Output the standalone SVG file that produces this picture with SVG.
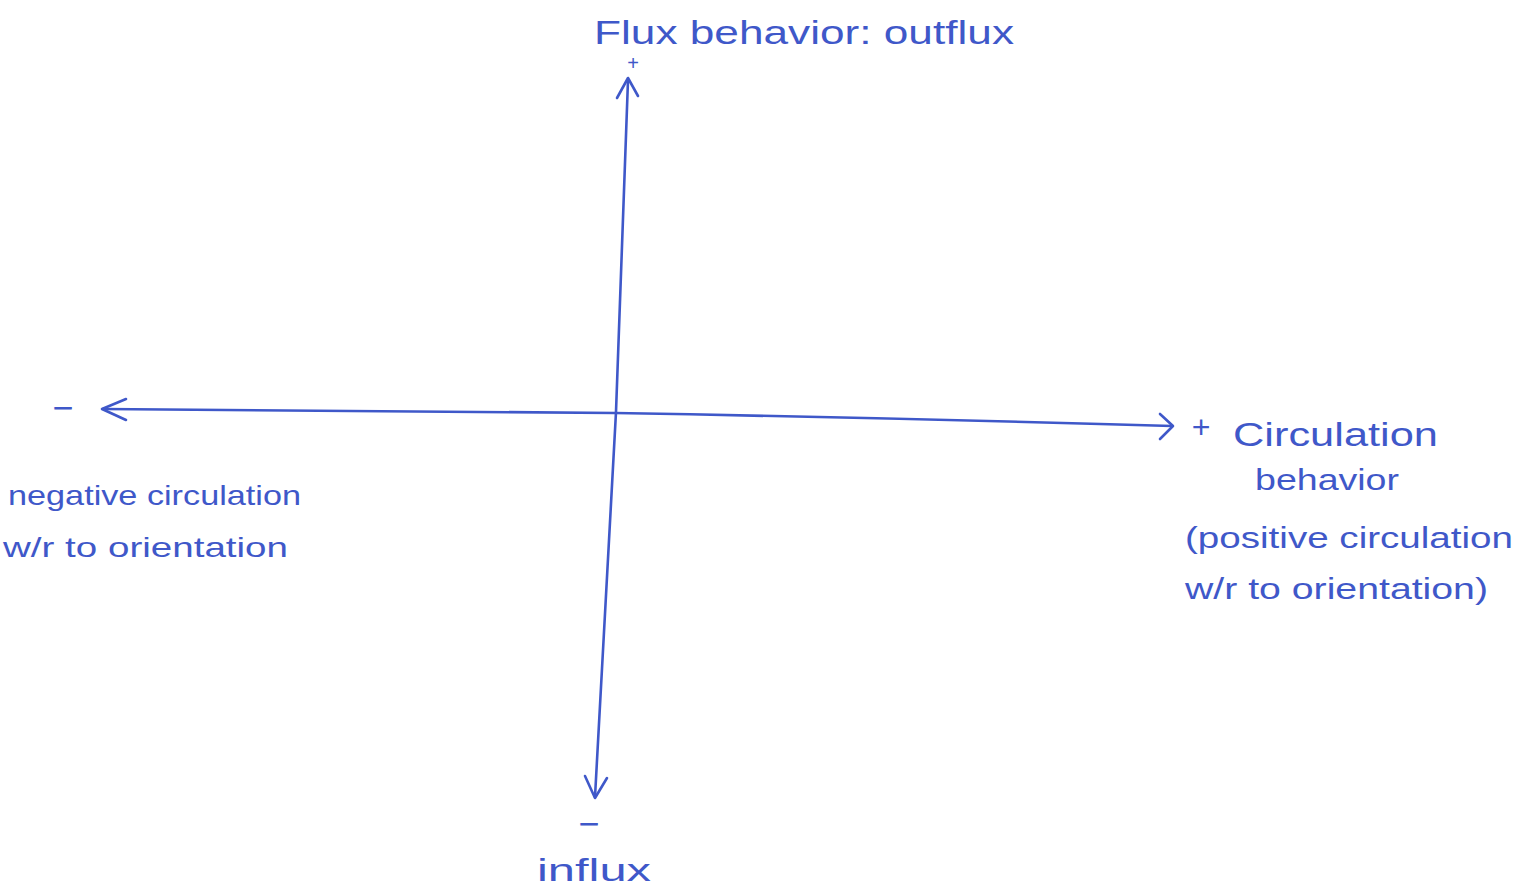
<svg xmlns="http://www.w3.org/2000/svg" width="1528" height="886" viewBox="0 0 1528 886">
<style>
.ink{fill:none;stroke:#3f58c9;stroke-width:2.6;stroke-linecap:round;stroke-linejoin:round}
.t{fill:#3f58c9;font-family:"Liberation Sans",Arial,sans-serif;font-weight:normal}
</style>
<rect width="1528" height="886" fill="#ffffff"/>
<g id="connectors">
<path class="ink" d="M628,80 Q622,240 616,412 Q606,600 595,797"/>
<path class="ink" d="M617,98 L628,78 L638,96"/>
<path class="ink" d="M585,776 L595,798 L607,778"/>
<path class="ink" d="M103,409 Q350,412 615,413 Q900,418 1172,426"/>
<path class="ink" d="M126,399 L102,409 L126,420"/>
<path class="ink" d="M1160,414 L1173,426 L1160,439"/>
</g>
<g id="top-label">
<text class="t" x="594" y="44" font-size="33" textLength="420" lengthAdjust="spacingAndGlyphs">Flux behavior: outflux</text>
<text class="t" x="633" y="70" font-size="20" text-anchor="middle">+</text>
</g>
<g id="bottom-label">
<text class="t" x="589" y="836" font-size="36" text-anchor="middle">−</text>
<text class="t" x="537" y="881" font-size="32" textLength="114" lengthAdjust="spacingAndGlyphs">influx</text>
</g>
<g id="left-label">
<text class="t" x="63" y="420" font-size="36" text-anchor="middle">−</text>
<text class="t" x="8" y="505" font-size="28" textLength="293" lengthAdjust="spacingAndGlyphs">negative circulation</text>
<text class="t" x="3" y="557" font-size="28" textLength="285" lengthAdjust="spacingAndGlyphs">w/r to orientation</text>
</g>
<g id="right-label">
<text class="t" x="1201" y="438" font-size="32" text-anchor="middle">+</text>
<text class="t" x="1233" y="446" font-size="34" textLength="205" lengthAdjust="spacingAndGlyphs">Circulation</text>
<text class="t" x="1255" y="490" font-size="30" textLength="144" lengthAdjust="spacingAndGlyphs">behavior</text>
<text class="t" x="1185" y="548" font-size="30" textLength="328" lengthAdjust="spacingAndGlyphs">(positive circulation</text>
<text class="t" x="1185" y="599" font-size="30" textLength="303" lengthAdjust="spacingAndGlyphs">w/r to orientation)</text>
</g>
</svg>
